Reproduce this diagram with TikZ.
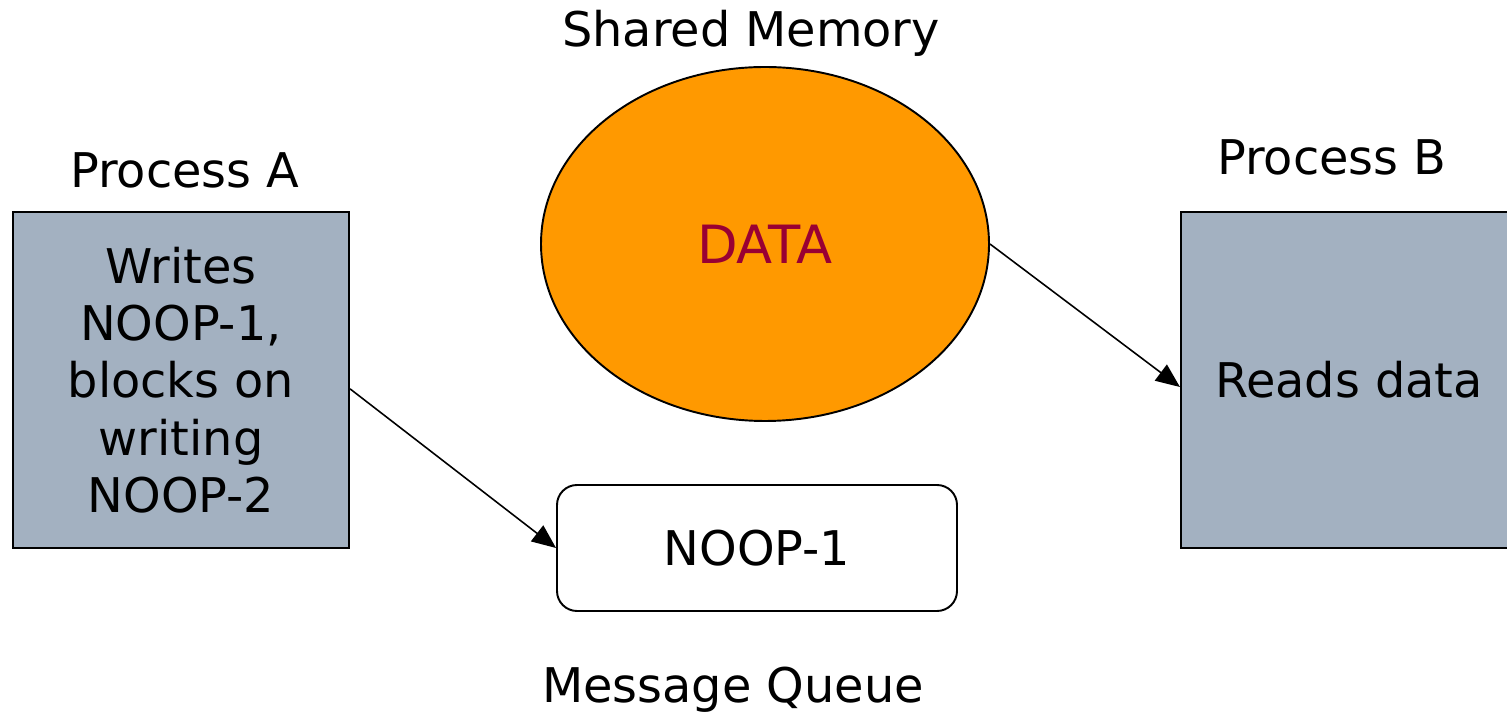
\documentclass[tikz,border=0pt]{standalone}
\usepackage{fontspec}
\setmainfont{DejaVu Sans}
\usetikzlibrary{arrows.meta,calc,shapes.geometric}

\definecolor{procfill}{HTML}{A3B1C1}
\definecolor{memfill}{HTML}{FF9900}
\definecolor{datared}{HTML}{990033}

\begin{document}
\begin{tikzpicture}[
  every node/.style={font=\fontsize{13.6pt}{16.3pt}\selectfont, inner sep=0pt},
  procbox/.style={draw=black, line width=0.6pt, fill=procfill, minimum width=3.36cm, minimum height=3.36cm, align=center},
  membubble/.style={ellipse, draw=black, line width=0.55pt, fill=memfill, minimum width=4.48cm, minimum height=3.54cm},
  queuebox/.style={draw=black, line width=0.55pt, rounded corners=0.2cm, minimum width=4.0cm, minimum height=1.26cm},
  caption/.style={anchor=base},
  arr/.style={-{Triangle[length=0.24cm,width=0.2cm]}, line width=0.45pt}
]
\useasboundingbox (0,0) rectangle (15.07,7.13);

% processes
\node[procbox] (pa) at (1.81,3.33) {Writes\\NOOP-1,\\blocks on\\writing\\NOOP-2};
\node[procbox] (pb) at (13.49,3.33) {Reads data};

% shared memory region
\node[membubble] (mem) at (7.65,4.69) {\fontsize{15pt}{18pt}\selectfont\textcolor{datared}{DATA}};

% message queue
\node[queuebox] (mq) at (7.57,1.65) {NOOP-1};

% titles
\node[caption] (ta) at (1.85,5.25) {Process A};
\node[caption] (tb) at (13.32,5.38) {Process B};
\node[caption] (tm) at (7.51,6.66) {Shared Memory};
\node[caption] (tq) at (7.33,0.11) {Message Queue};

% flows
\draw[arr] (pa.-3) -- (mq.west);
\draw[arr] (mem.east) -- ($(pb.west)+(0,-0.07)$);
\end{tikzpicture}
\end{document}
